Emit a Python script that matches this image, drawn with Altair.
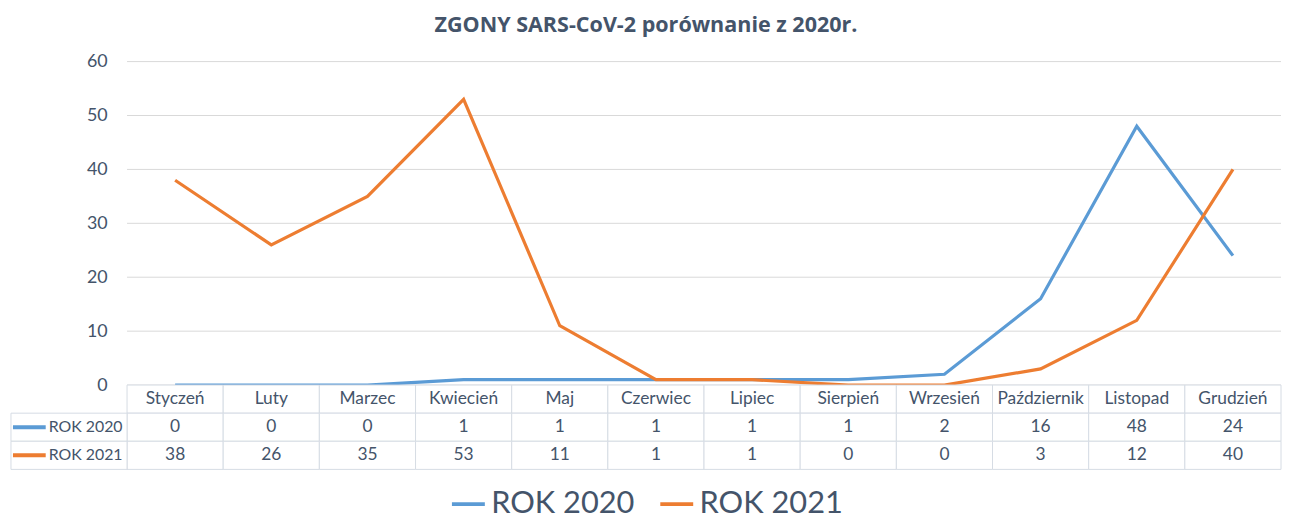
import altair as alt
import pandas as pd

months = ["Styczeń", "Luty", "Marzec", "Kwiecień", "Maj", "Czerwiec", "Lipiec",
          "Sierpień", "Wrzesień", "Październik", "Listopad", "Grudzień"]
rok2020 = [0, 0, 0, 1, 1, 1, 1, 1, 2, 16, 48, 24]
rok2021 = [38, 26, 35, 53, 11, 1, 1, 0, 0, 3, 12, 40]
series = ["ROK 2020", "ROK 2021"]
colors = ["#5b9bd5", "#ed7d31"]
y_ticks = [0, 10, 20, 30, 40, 50, 60]
title_text = "ZGONY SARS-CoV-2 porównanie z 2020r."

N = len(months)
LABEL_W = 1.207          # width of the row-label column, in month widths
W = 1280
H_TOP = 326
H_TAB = 85
TXT = "#44546a"
FONT = "Lato"
LINE_C = "#d9d9d9"
TAB_C = "#d6dce4"

long = pd.DataFrame({
    "month": months * 2,
    "idx": list(range(N)) * 2,
    "series": [series[0]] * N + [series[1]] * N,
    "value": rok2020 + rok2021,
})
long["xc"] = long["idx"] + 0.5

xscale = alt.Scale(domain=[-LABEL_W, N], nice=False, zero=False)
yscale = alt.Scale(domain=[0, 60], nice=False)
axis_offset = -LABEL_W / (N + LABEL_W) * W

# ---- top: line chart ----
grid_df = pd.DataFrame({"tick": y_ticks, "x0": [0] * len(y_ticks), "x1": [N] * len(y_ticks)})
grid = alt.Chart(grid_df).mark_rule(color=LINE_C, strokeWidth=1).encode(
    x=alt.X("x0:Q", scale=xscale, axis=None),
    x2="x1:Q",
    y=alt.Y("tick:Q", scale=yscale,
            axis=alt.Axis(values=y_ticks, offset=axis_offset, labelPadding=20,
                          domain=False, ticks=False, grid=False, title=None,
                          labelFontSize=18, labelColor=TXT, labelFont=FONT)),
)
lines = alt.Chart(long).mark_line(strokeWidth=3.2).encode(
    x=alt.X("xc:Q", scale=xscale, axis=None),
    y=alt.Y("value:Q", scale=yscale),
    color=alt.Color("series:N", scale=alt.Scale(domain=series, range=colors),
                    legend=alt.Legend(orient="none", legendX=442, legendY=427,
                                      direction="horizontal", title=None,
                                      symbolType="stroke", symbolStrokeWidth=4,
                                      symbolSize=1100, labelFontSize=31,
                                      labelFont=FONT, labelColor=TXT,
                                      columnPadding=17, labelOffset=4)),
)
top = alt.layer(grid, lines).properties(width=W, height=H_TOP)

# ---- bottom: data table ----
rows = ["header"] + series
cell_rows = []
for r in rows:
    for i in range(N):
        cell_rows.append({"row": r, "x0": i, "x1": i + 1})
for r in series:
    cell_rows.append({"row": r, "x0": -LABEL_W, "x1": 0})
cells = pd.DataFrame(cell_rows)

yrow = alt.Scale(domain=rows, paddingInner=0, paddingOuter=0)

rects = alt.Chart(cells).mark_rect(fill="white", stroke=TAB_C, strokeWidth=1).encode(
    x=alt.X("x0:Q", scale=xscale, axis=None),
    x2="x1:Q",
    y=alt.Y("row:N", scale=yrow, axis=None),
)
head_df = pd.DataFrame({"month": months, "xc": [i + 0.5 for i in range(N)], "row": ["header"] * N})
head = alt.Chart(head_df).mark_text(fontSize=17.5, color=TXT, font=FONT).encode(
    x=alt.X("xc:Q", scale=xscale, axis=None),
    y=alt.Y("row:N", scale=yrow, axis=None),
    text="month:N",
)
vals = alt.Chart(long).mark_text(fontSize=17.5, color=TXT, font=FONT).encode(
    x=alt.X("xc:Q", scale=xscale, axis=None),
    y=alt.Y("series:N", scale=yrow, axis=None),
    text="value:Q",
)
lab_df = pd.DataFrame({"series": series, "col": colors})
glyph = alt.Chart(lab_df).mark_rule(strokeWidth=4).encode(
    x=alt.value(2), x2=alt.value(35),
    y=alt.Y("series:N", scale=yrow, axis=None),
    color=alt.Color("col:N", scale=None),
)
labels = alt.Chart(lab_df).mark_text(fontSize=16, color=TXT, font=FONT, align="left").encode(
    x=alt.value(38),
    y=alt.Y("series:N", scale=yrow, axis=None),
    text="series:N",
)
table = alt.layer(rects, head, vals, glyph, labels).properties(width=W, height=H_TAB)

chart = alt.vconcat(top, table, spacing=0, bounds="flush").properties(
    title=alt.TitleParams(title_text, fontSize=21.7, font="Open Sans", fontWeight="bold",
                          color=TXT, anchor="middle", offset=16),
    padding={"left": 2, "right": 0, "top": 5, "bottom": 0},
).configure_view(stroke=None)

chart.save("out.html", embed_options={"renderer": "svg", "actions": False})
